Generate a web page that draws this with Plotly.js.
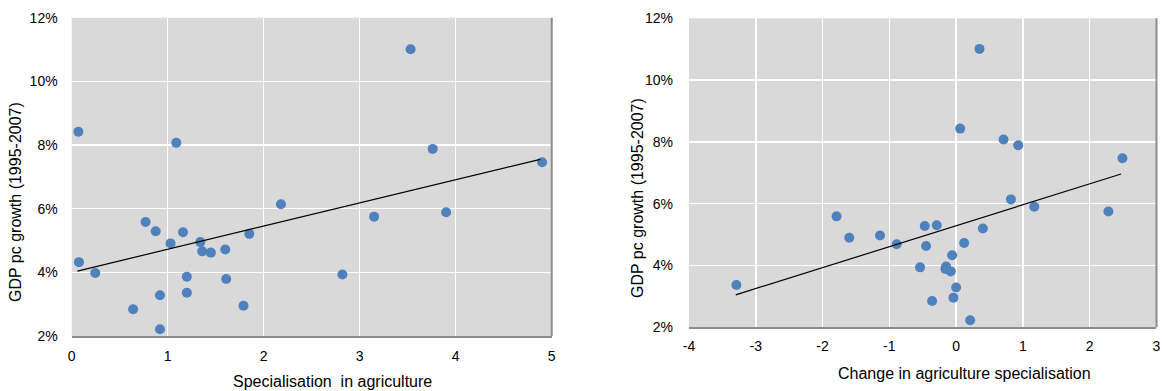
<!DOCTYPE html>
<html>
<head>
<meta charset="utf-8">
<script src="https://cdn.plot.ly/plotly-3.0.1.min.js"></script>
<style>html,body{margin:0;padding:0;background:#fff;}#chart{width:1165px;height:391px;}</style>
</head>
<body>
<div id="chart"></div>
<script>
// Left panel: specialisation in agriculture vs GDP pc growth (%)
const specX = [0.07, 1.09, 3.53, 3.76, 4.90, 2.18, 0.77, 0.875, 1.16, 1.85, 1.03, 1.34, 1.36, 1.45, 1.60, 0.076, 0.246, 1.20, 1.61, 0.92, 1.20, 0.64, 1.79, 0.92, 3.15, 3.90, 2.82];
const specY = [8.42, 8.07, 11.01, 7.88, 7.46, 6.14, 5.58, 5.29, 5.26, 5.21, 4.91, 4.95, 4.66, 4.62, 4.72, 4.32, 3.98, 3.86, 3.79, 3.28, 3.36, 2.84, 2.95, 2.21, 5.75, 5.89, 3.93];
const specTrendX = [0.06, 4.88];
const specTrendY = [4.04, 7.55];

// Right panel: change in agriculture specialisation vs GDP pc growth (%)
const chgX = [0.35, 0.06, 0.71, 0.93, 2.49, 0.82, 1.17, 2.28, -0.47, -0.29, 0.40, -1.14, -0.89, -0.45, 0.12, -0.06, -0.54, -0.15, -0.08, -0.16, 0.00, -0.04, -0.36, 0.21, -1.79, -1.60, -3.29];
const chgY = [11.01, 8.43, 8.08, 7.89, 7.47, 6.14, 5.90, 5.75, 5.28, 5.30, 5.20, 4.97, 4.69, 4.63, 4.73, 4.33, 3.94, 3.97, 3.81, 3.89, 3.29, 2.96, 2.85, 2.23, 5.59, 4.90, 3.37];
const chgTrendX = [-3.30, 2.47];
const chgTrendY = [3.05, 6.96];

const yTickVals = [2, 4, 6, 8, 10, 12];
const yTickText = ["2%", "4%", "6%", "8%", "10%", "12%"];
const xTickValsLeft = [0, 1, 2, 3, 4, 5];
const xTickTextLeft = ["0", "1", "2", "3", "4", "5"];
const xTickValsRight = [-4, -3, -2, -1, 0, 1, 2, 3];
const xTickTextRight = ["-4", "-3", "-2", "-1", "0", "1", "2", "3"];
const yTitle = "GDP pc growth (1995-2007)";
const xTitleLeft = "Specialisation  in agriculture";
const xTitleRight = "Change in agriculture specialisation";

const dotColor = "#4f81bd";
const fam = "Liberation Sans, Arial, sans-serif";
const tickFont = {family: fam, size: 14, color: "#000"};
const titleFont = {family: fam, size: 16, color: "#000"};

const traces = [
  {x: specX, y: specY, xaxis: "x", yaxis: "y", type: "scatter", mode: "markers",
   marker: {color: dotColor, size: 10}, hoverinfo: "skip"},
  {x: specTrendX, y: specTrendY, xaxis: "x", yaxis: "y", type: "scatter", mode: "lines",
   line: {color: "#000", width: 1.2}, hoverinfo: "skip"},
  {x: chgX, y: chgY, xaxis: "x2", yaxis: "y2", type: "scatter", mode: "markers",
   marker: {color: dotColor, size: 10}, hoverinfo: "skip"},
  {x: chgTrendX, y: chgTrendY, xaxis: "x2", yaxis: "y2", type: "scatter", mode: "lines",
   line: {color: "#000", width: 1.2}, hoverinfo: "skip"}
];

function xAx(domain, range, anchor, standoff, vals, text) {
  return {domain: domain, range: range, anchor: anchor, tickmode: "array", tickvals: vals, ticktext: text,
    showgrid: true, gridcolor: "#ffffff", gridwidth: 1.5, zeroline: false,
    showline: true, linecolor: "#8c8c8c", linewidth: 2,
    ticks: "", ticklabelstandoff: standoff, tickfont: tickFont, fixedrange: true};
}
function yAx(domain, anchor, standoff) {
  return {domain: domain, range: [2, 12], anchor: anchor, tickmode: "array", tickvals: yTickVals, ticktext: yTickText,
    showgrid: true, gridcolor: "#ffffff", gridwidth: 1.5, zeroline: false,
    showline: false, ticks: "", ticklabelstandoff: standoff, tickfont: tickFont, fixedrange: true};
}

const layout = {
  width: 1165, height: 391,
  margin: {l: 0, r: 0, t: 0, b: 0},
  paper_bgcolor: "#ffffff",
  plot_bgcolor: "#d9d9d9",
  showlegend: false,
  font: tickFont,
  xaxis: xAx([0.0615, 0.4736], [0, 5], "y", 6, xTickValsLeft, xTickTextLeft),
  yaxis: yAx([0.1407, 0.9545], "x", 13),
  xaxis2: xAx([0.5914, 0.9927], [-4, 3], "y2", 5, xTickValsRight, xTickTextRight),
  yaxis2: yAx([0.1629, 0.9532], "x2", 15),
  shapes: [
    {type: "line", xref: "x domain", yref: "y domain", x0: 1, x1: 1, y0: 0, y1: 1,
     line: {color: "#8c8c8c", width: 2}},
    {type: "line", xref: "x2 domain", yref: "y2 domain", x0: 1, x1: 1, y0: 0, y1: 1,
     line: {color: "#8c8c8c", width: 2}}
  ],
  annotations: [
    {text: yTitle, xref: "paper", yref: "paper", x: 15 / 1165, y: 1 - 202 / 391,
     textangle: -90, showarrow: false, font: titleFont, xanchor: "center", yanchor: "middle"},
    {text: yTitle, xref: "paper", yref: "paper", x: 637 / 1165, y: 1 - 198 / 391,
     textangle: -90, showarrow: false, font: titleFont, xanchor: "center", yanchor: "middle"},
    {text: xTitleLeft, xref: "paper", yref: "paper", x: 332 / 1165, y: 1 - 381 / 391,
     showarrow: false, font: titleFont, xanchor: "center", yanchor: "middle"},
    {text: xTitleRight, xref: "paper", yref: "paper", x: 964 / 1165, y: 1 - 373 / 391,
     showarrow: false, font: titleFont, xanchor: "center", yanchor: "middle"}
  ]
};

Plotly.newPlot("chart", traces, layout, {staticPlot: true, displayModeBar: false});
</script>
</body>
</html>
